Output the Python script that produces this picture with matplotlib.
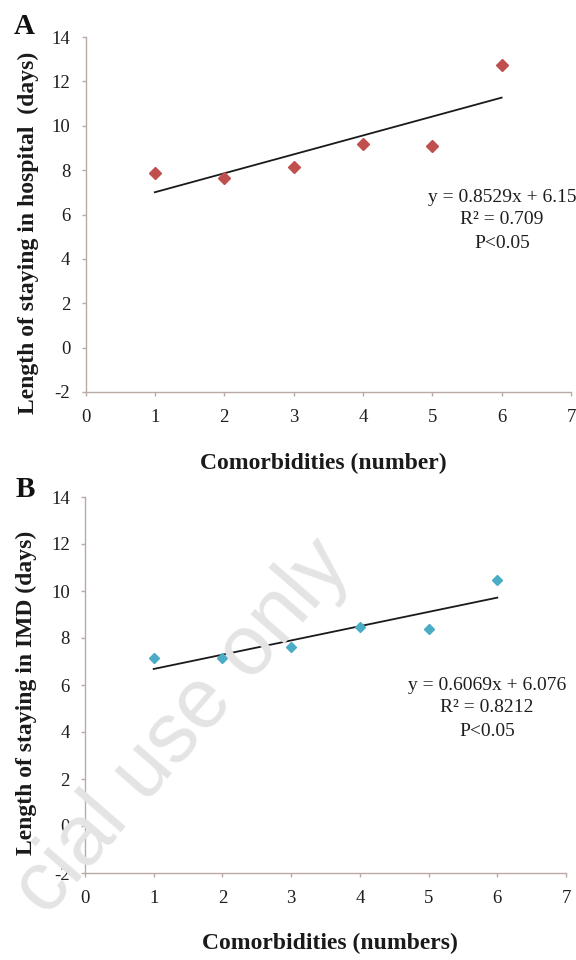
import matplotlib
matplotlib.use("Agg")
import matplotlib.pyplot as plt
import numpy as np

plt.rcParams["axes.unicode_minus"] = False

# ---- data ----
comorbidities = [1, 2, 3, 4, 5, 6]
hospital_days = [7.85, 7.64, 8.12, 9.16, 9.07, 12.74]
imd_days = [7.14, 7.14, 7.61, 8.46, 8.39, 10.48]
fit_a = (0.8529, 6.15)
fit_b = (0.6069, 6.076)
eq_a = ["y = 0.8529x + 6.15", "R² = 0.709", "P<0.05"]
eq_b = ["y = 0.6069x + 6.076", "R² = 0.8212", "P<0.05"]
xticks = [0, 1, 2, 3, 4, 5, 6, 7]
yticks = [-2, 0, 2, 4, 6, 8, 10, 12, 14]

W, H = 576, 960
fig = plt.figure(figsize=(W / 100, H / 100), dpi=100)
fig.patch.set_facecolor("white")
serif = ["Liberation Serif", "DejaVu Serif"]
spine_col = "#b9aaa5"

def px(x, y):
    return x / W, 1 - y / H

def make_axes(rect, xs, ys, col, msize, fit, eq, eq_xy):
    ax = fig.add_axes(rect)
    ax.set_facecolor("none")
    ax.set_xlim(0, 7)
    ax.set_ylim(-2, 14)
    for s in ["top", "right"]:
        ax.spines[s].set_visible(False)
    for s in ["left", "bottom"]:
        ax.spines[s].set_color(spine_col)
        ax.spines[s].set_linewidth(1.0)
    ax.set_xticks(xticks)
    ax.set_yticks(yticks)
    ax.tick_params(axis="both", direction="out", length=3, width=1.0,
                   color=spine_col, labelcolor="#1e1e1e", labelsize=13.5)
    ax.tick_params(axis="y", pad=8)
    ax.tick_params(axis="x", pad=9)
    for lab in ax.get_xticklabels() + ax.get_yticklabels():
        lab.set_family(serif)
    xs_arr = np.array(xs, dtype=float)
    ax.plot([xs_arr.min(), xs_arr.max()],
            [fit[0] * xs_arr.min() + fit[1], fit[0] * xs_arr.max() + fit[1]],
            color="#1a1a1a", lw=1.3, zorder=2)
    ax.plot(xs, ys, linestyle="none", marker="D", markersize=msize,
            color=col, markeredgecolor=col, zorder=3, clip_on=False)
    fx, fy = eq_xy
    for i, line in enumerate(eq):
        x0, y0 = px(fx, fy + i * 23)
        fig.text(x0, y0, line, ha="center", va="center", fontsize=14,
                 family=serif, color="#1e1e1e")
    return ax

# watermark (drawn first so it sits behind everything)
x, y = px(352, 566)
fig.text(x, y, "cial use only", rotation=49, ha="right", va="baseline",
         rotation_mode="anchor", fontsize=61, family=["Liberation Sans", "DejaVu Sans"],
         color="#e4e4e4", zorder=0)

axA = make_axes([85.5 / W, 1 - 392 / H, 485.5 / W, 355 / H],
                comorbidities, hospital_days, "#c0504d", 6.2, fit_a, eq_a, (502, 197))
axB = make_axes([85 / W, 1 - 873 / H, 481 / W, 376 / H],
                comorbidities, imd_days, "#4bacc6", 4.8, fit_b, eq_b, (487, 685))

# axis labels
x, y = px(28, 233)
fig.text(x, y, "Length of staying in hospital  (days)", rotation=90, ha="center",
         va="center", fontsize=17, fontweight="bold", family=serif, color="#1a1a1a")
x, y = px(26, 693)
fig.text(x, y, "Length of staying in IMD (days)", rotation=90, ha="center",
         va="center", fontsize=17, fontweight="bold", family=serif, color="#1a1a1a")
x, y = px(323, 463)
fig.text(x, y, "Comorbidities (number)", ha="center", va="center", fontsize=17,
         fontweight="bold", family=serif, color="#1a1a1a")
x, y = px(330, 943)
fig.text(x, y, "Comorbidities (numbers)", ha="center", va="center", fontsize=17,
         fontweight="bold", family=serif, color="#1a1a1a")

# panel letters
x, y = px(24, 27)
fig.text(x, y, "A", ha="center", va="center", fontsize=21, fontweight="bold",
         family=serif, color="#111111")
x, y = px(25, 490)
fig.text(x, y, "B", ha="center", va="center", fontsize=21, fontweight="bold",
         family=serif, color="#111111")

fig.savefig("out.png", dpi=100, facecolor="white")
